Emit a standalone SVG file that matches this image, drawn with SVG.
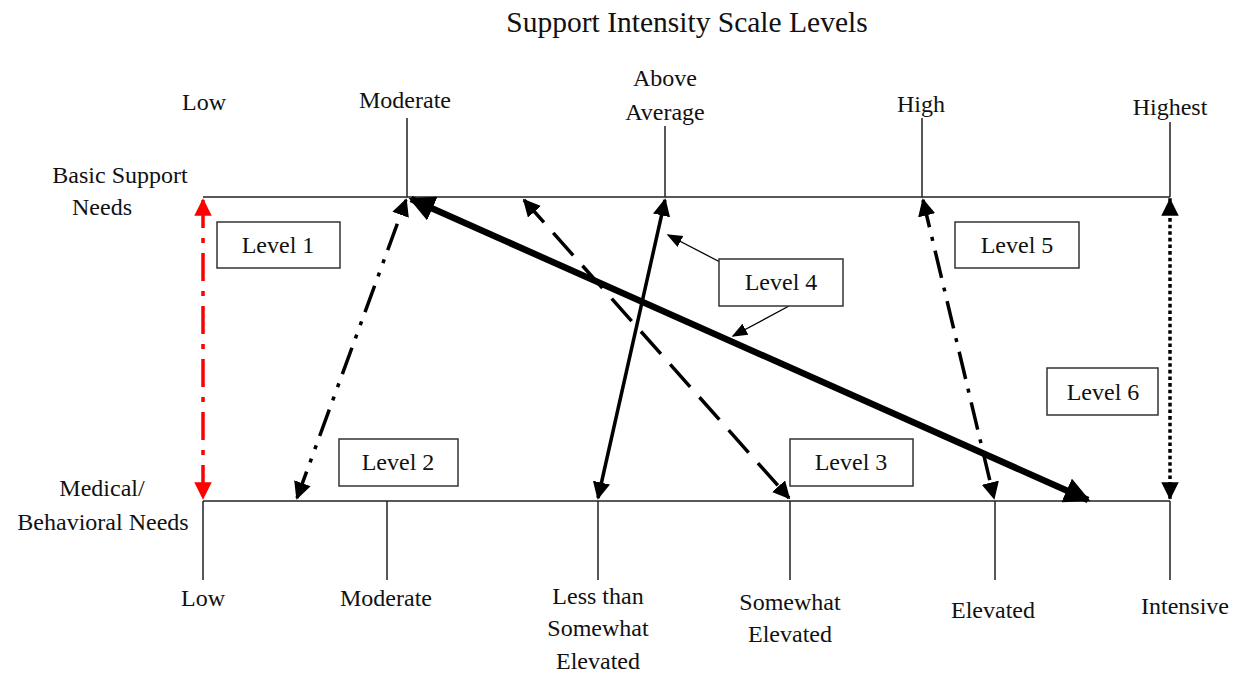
<svg xmlns="http://www.w3.org/2000/svg" width="1238" height="675" viewBox="0 0 1238 675">
<style>
text{font-family:"Liberation Serif","Times New Roman",serif;font-size:24px;fill:#111;text-anchor:middle}
.title{font-size:29.5px}
.axis{stroke:#222;stroke-width:1.5;fill:none}
.box rect{fill:#fff;stroke:#333;stroke-width:1.5}
.conn{fill:none;stroke:#000;stroke-width:3.5}
</style>
<defs>
<marker id="ah" viewBox="0 0 10 10" refX="9" refY="5" markerWidth="5" markerHeight="5" orient="auto-start-reverse" markerUnits="strokeWidth"><path d="M0,0L10,5L0,10z" fill="#000"/></marker>
<marker id="ahr" viewBox="0 0 10 10" refX="9" refY="5" markerWidth="5" markerHeight="5" orient="auto-start-reverse" markerUnits="strokeWidth"><path d="M0,0L10,5L0,10z" fill="#f00"/></marker>
<marker id="ahs" viewBox="0 0 10 10" refX="9" refY="5" markerWidth="12" markerHeight="12" orient="auto" markerUnits="strokeWidth"><path d="M0,1L10,5L0,9z" fill="#000"/></marker>
<marker id="aht" viewBox="0 0 10 10" refX="9" refY="5" markerWidth="4" markerHeight="4" orient="auto-start-reverse" markerUnits="strokeWidth"><path d="M0,0L10,5L0,10z" fill="#000"/></marker>
</defs>
<text class="title" x="687" y="32">Support Intensity Scale Levels</text>
<g id="axes">
<path class="axis" d="M203,197H1170M407,118V197M665,126V197M922,118V197M1170,122V197"/>
<path class="axis" d="M203,501H1170M203,501V580M387,501V580M598,501V580M790,501V580M995,501V580M1170,501V580"/>
</g>
<g id="labels">
<text x="204" y="110">Low</text>
<text x="405" y="108">Moderate</text>
<text x="665" y="86">Above</text>
<text x="665" y="120">Average</text>
<text x="921" y="112">High</text>
<text x="1170" y="115">Highest</text>
<text x="120" y="183">Basic Support</text>
<text x="102" y="215">Needs</text>
<text x="102" y="496">Medical/</text>
<text x="103" y="530">Behavioral Needs</text>
<text x="203" y="606">Low</text>
<text x="386" y="606">Moderate</text>
<text x="598" y="604">Less than</text>
<text x="598" y="636">Somewhat</text>
<text x="598" y="669">Elevated</text>
<text x="790" y="610">Somewhat</text>
<text x="790" y="642">Elevated</text>
<text x="993" y="618">Elevated</text>
<text x="1185" y="614">Intensive</text>
</g>
<g id="connectors">
<line x1="203" y1="200" x2="203" y2="498" stroke="#f00" stroke-width="3.5" stroke-dasharray="28,10,5,10" marker-start="url(#ahr)" marker-end="url(#ahr)"/>
<line class="conn" x1="297" y1="498" x2="406" y2="200" stroke-dasharray="28,10,4,10,4,10" marker-start="url(#ah)" marker-end="url(#ah)"/>
<line class="conn" x1="524" y1="200" x2="789" y2="498" stroke-dasharray="30,14" marker-start="url(#ah)" marker-end="url(#ah)"/>
<line class="conn" x1="665" y1="200" x2="598" y2="498" marker-start="url(#ah)" marker-end="url(#ah)"/>
<line x1="411" y1="199" x2="1088" y2="500" style="stroke:#000;stroke-width:6.5;fill:none" marker-start="url(#aht)" marker-end="url(#aht)"/>
<line class="conn" x1="923" y1="200" x2="994" y2="498" stroke-dasharray="28,10,4,10" marker-start="url(#ah)" marker-end="url(#ah)"/>
<line class="conn" x1="1170" y1="200" x2="1170" y2="498" stroke-dasharray="0.1,6.5" stroke-linecap="square" marker-start="url(#ah)" marker-end="url(#ah)"/>
<line x1="720" y1="262" x2="668" y2="235" stroke="#000" stroke-width="1.3" marker-end="url(#ahs)"/>
<line x1="789" y1="306" x2="733" y2="336" stroke="#000" stroke-width="1.3" marker-end="url(#ahs)"/>
</g>
<g id="level1" class="box"><rect x="217" y="222" width="123" height="46"/><text x="278" y="253">Level 1</text></g>
<g id="level2" class="box"><rect x="339" y="439" width="119" height="47"/><text x="398" y="470">Level 2</text></g>
<g id="level3" class="box"><rect x="790" y="439" width="123" height="47"/><text x="851" y="470">Level 3</text></g>
<g id="level4" class="box"><rect x="719" y="259" width="124" height="47"/><text x="781" y="290">Level 4</text></g>
<g id="level5" class="box"><rect x="955" y="222" width="124" height="46"/><text x="1017" y="253">Level 5</text></g>
<g id="level6" class="box"><rect x="1047" y="368" width="111" height="47"/><text x="1103" y="400">Level 6</text></g>
</svg>
